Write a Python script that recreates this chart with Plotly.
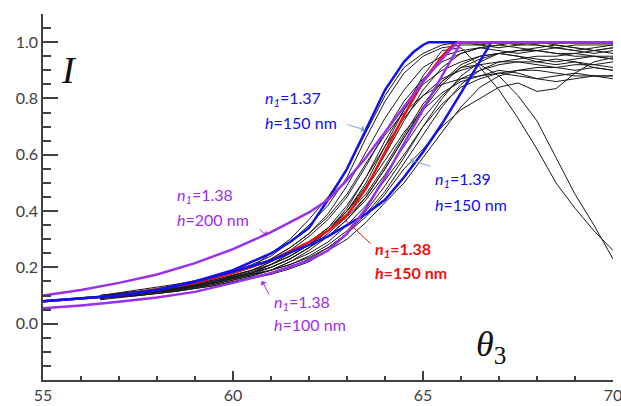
import plotly.graph_objects as go

# ---------------- data ----------------
# experimental curves (black), sampled on a common angle grid
exp_x = [56.5, 57.5, 58.5, 59.5, 60.5, 61.0, 61.5, 62.0, 62.5, 63.0, 63.5, 64.0,
         64.5, 65.0, 65.5, 66.0, 66.5, 67.0, 67.5, 68.0, 68.5, 69.0, 69.5, 70.0]
exp_c01 = [0.095,0.11,0.13,0.16,0.21,0.24,0.29,0.35,0.42,0.52,0.66,0.79,0.89,0.95,0.98,0.99,0.99,1.0,0.99,0.99,0.98,0.99,0.99,0.99]
exp_c02 = [0.10,0.115,0.135,0.16,0.20,0.23,0.27,0.32,0.39,0.49,0.61,0.73,0.83,0.91,0.95,0.97,0.98,0.97,0.96,0.97,0.98,0.97,0.96,0.97]
exp_c03 = [0.09,0.105,0.125,0.15,0.19,0.21,0.24,0.28,0.33,0.40,0.50,0.63,0.76,0.88,0.97,0.98,0.91,0.83,0.73,0.62,0.50,0.41,0.33,0.26]
exp_c04 = [0.095,0.11,0.13,0.155,0.19,0.22,0.26,0.31,0.37,0.45,0.56,0.68,0.79,0.87,0.93,0.96,0.98,0.99,0.98,0.97,0.96,0.95,0.95,0.94]
exp_c05 = [0.10,0.11,0.125,0.15,0.18,0.21,0.25,0.29,0.34,0.42,0.52,0.65,0.76,0.85,0.90,0.93,0.95,0.96,0.95,0.94,0.93,0.94,0.95,0.94]
exp_c06 = [0.09,0.105,0.12,0.145,0.18,0.20,0.23,0.27,0.33,0.41,0.52,0.63,0.73,0.81,0.87,0.90,0.92,0.93,0.93,0.92,0.91,0.92,0.92,0.91]
exp_c07 = [0.095,0.11,0.125,0.15,0.185,0.21,0.24,0.28,0.33,0.40,0.49,0.60,0.72,0.83,0.91,0.96,0.98,0.99,1.0,0.99,0.98,0.97,0.98,0.99]
exp_c08 = [0.10,0.115,0.13,0.155,0.19,0.22,0.25,0.29,0.34,0.40,0.48,0.58,0.68,0.76,0.82,0.86,0.88,0.89,0.88,0.87,0.88,0.89,0.88,0.88]
exp_c09 = [0.095,0.11,0.125,0.15,0.18,0.20,0.23,0.27,0.32,0.38,0.45,0.55,0.66,0.76,0.85,0.91,0.92,0.88,0.81,0.72,0.59,0.46,0.35,0.23]
exp_c10 = [0.09,0.105,0.12,0.145,0.175,0.20,0.23,0.27,0.31,0.37,0.45,0.55,0.66,0.77,0.86,0.92,0.95,0.96,0.97,0.97,0.96,0.96,0.97,0.96]
exp_c11 = [0.095,0.105,0.12,0.14,0.17,0.19,0.22,0.26,0.31,0.37,0.44,0.53,0.63,0.73,0.81,0.87,0.90,0.92,0.93,0.93,0.94,0.93,0.92,0.93]
exp_c12 = [0.09,0.10,0.115,0.14,0.17,0.19,0.22,0.25,0.29,0.35,0.42,0.51,0.60,0.70,0.78,0.84,0.87,0.89,0.90,0.90,0.89,0.88,0.88,0.87]
exp_c13 = [0.095,0.11,0.12,0.145,0.175,0.19,0.21,0.24,0.28,0.33,0.40,0.49,0.59,0.70,0.80,0.88,0.93,0.96,0.97,0.98,0.99,0.98,0.97,0.98]
exp_c14 = [0.09,0.10,0.115,0.135,0.165,0.18,0.20,0.23,0.27,0.32,0.39,0.47,0.57,0.67,0.77,0.85,0.90,0.93,0.94,0.95,0.95,0.96,0.95,0.95]
exp_c15 = [0.085,0.10,0.115,0.135,0.16,0.175,0.195,0.22,0.26,0.30,0.36,0.43,0.50,0.59,0.68,0.77,0.84,0.88,0.90,0.91,0.91,0.90,0.91,0.90]
exp_c16 = [0.095,0.105,0.12,0.145,0.175,0.19,0.21,0.235,0.27,0.32,0.38,0.46,0.55,0.62,0.70,0.76,0.80,0.84,0.855,0.825,0.835,0.89,0.93,0.945]
exp_c17 = [0.10,0.12,0.14,0.165,0.20,0.23,0.27,0.32,0.38,0.46,0.57,0.67,0.75,0.81,0.85,0.87,0.88,0.90,0.89,0.87,0.86,0.87,0.88,0.88]
exp_c18 = [0.095,0.11,0.13,0.16,0.20,0.25,0.30,0.37,0.45,0.55,0.68,0.81,0.91,0.96,0.99,1.0,0.99,0.98,0.99,1.0,0.99,0.98,0.97,0.98]
exp_c19 = [0.09,0.105,0.12,0.145,0.18,0.21,0.24,0.28,0.33,0.39,0.46,0.56,0.67,0.78,0.86,0.91,0.94,0.96,0.95,0.93,0.92,0.93,0.91,0.90]
exp_curves = [exp_c01, exp_c02, exp_c03, exp_c04, exp_c05, exp_c06, exp_c07, exp_c08, exp_c09, exp_c10,
              exp_c11, exp_c12, exp_c13, exp_c14, exp_c15, exp_c16, exp_c17, exp_c18, exp_c19]

# theory curves
b37_x = [55, 56, 57, 58, 59, 60, 60.5, 61, 61.5, 62, 62.5, 63, 63.5, 64, 64.5, 64.75, 65, 65.15, 70]
b37_y = [0.08, 0.09, 0.10, 0.12, 0.15, 0.19, 0.22, 0.25, 0.29, 0.34, 0.44, 0.55, 0.69, 0.83, 0.93, 0.965, 0.99, 1.0, 1.0]
b39_x = [55, 56, 57, 58, 59, 60, 61, 62, 62.5, 63, 63.5, 64, 64.5, 65, 65.5, 66, 66.5, 66.8, 70]
b39_y = [0.08, 0.09, 0.10, 0.12, 0.15, 0.185, 0.225, 0.28, 0.31, 0.35, 0.39, 0.44, 0.52, 0.61, 0.71, 0.82, 0.93, 1.0, 1.0]
red_x = [55, 57, 59, 60, 61, 62, 62.5, 63, 63.5, 64, 64.5, 65, 65.5, 65.85, 70]
red_y = [0.08, 0.10, 0.145, 0.18, 0.225, 0.29, 0.33, 0.385, 0.48, 0.61, 0.74, 0.86, 0.95, 1.0, 1.0]
p200_x = [55, 56, 57, 58, 59, 60, 61, 62, 62.5, 63, 63.5, 64, 64.5, 65, 65.5, 65.9, 70]
p200_y = [0.10, 0.12, 0.145, 0.175, 0.215, 0.265, 0.325, 0.395, 0.44, 0.51, 0.59, 0.68, 0.77, 0.86, 0.94, 1.0, 1.0]
p100_x = [55, 56, 57, 58, 59, 60, 61, 62, 62.5, 63, 63.5, 64, 64.5, 65, 65.5, 66, 70]
p100_y = [0.055, 0.065, 0.078, 0.093, 0.113, 0.145, 0.18, 0.225, 0.26, 0.32, 0.41, 0.52, 0.64, 0.76, 0.88, 1.0, 1.0]

y_tickvals = [0.0, 0.2, 0.4, 0.6, 0.8, 1.0]
y_ticktext = ["0.0", "0.2", "0.4", "0.6", "0.8", "1.0"]
x_tickvals = [55, 60, 65, 70]
x_ticktext = ["55", "60", "65", "70"]

BLUE = "#1010f0"
PURPLE = "#9b2ff0"
RED = "#f01010"
AXC = "#404040"
FONT = "Lato"

fig = go.Figure()
for cy in exp_curves:
    fig.add_trace(go.Scatter(x=exp_x, y=cy, mode="lines",
                             line=dict(color="#1a1a1a", width=1), hoverinfo="skip"))
fig.add_trace(go.Scatter(x=red_x, y=red_y, mode="lines", line=dict(color=RED, width=2.5)))
fig.add_trace(go.Scatter(x=b39_x, y=b39_y, mode="lines", line=dict(color=BLUE, width=2.5)))
fig.add_trace(go.Scatter(x=b37_x, y=b37_y, mode="lines", line=dict(color=BLUE, width=2.5)))
fig.add_trace(go.Scatter(x=p100_x, y=p100_y, mode="lines", line=dict(color=PURPLE, width=2.5)))
fig.add_trace(go.Scatter(x=p200_x, y=p200_y, mode="lines", line=dict(color=PURPLE, width=2.5)))

ann = []
def label(x, y, text, color, bold=False, size=16):
    t = f"<b>{text}</b>" if bold else text
    ann.append(dict(x=x, y=y, xref="x", yref="y", text=t, showarrow=False,
                    xanchor="left", yanchor="middle",
                    font=dict(family=FONT, size=size, color=color)))

def arrow(tx, ty, hx, hy, color, head=1):
    ann.append(dict(x=hx, y=hy, ax=tx, ay=ty, xref="x", yref="y", axref="x", ayref="y",
                    text="", showarrow=True, arrowhead=head, arrowsize=1.2,
                    arrowwidth=1, arrowcolor=color))

N1 = "<i>n</i><sub><i>1</i></sub>"
label(60.79, 0.801, N1 + "=1.37", BLUE)
label(60.79, 0.713, "<i>h</i>=150 nm", BLUE)
label(65.26, 0.511, N1 + "=1.39", BLUE)
label(65.26, 0.422, "<i>h</i>=150 nm", BLUE)
label(58.47, 0.454, N1 + "=1.38", PURPLE)
label(58.47, 0.369, "<i>h</i>=200 nm", PURPLE)
label(61.03, 0.0745, N1 + "=1.38", PURPLE)
label(61.03, -0.004, "<i>h</i>=100 nm", PURPLE)
label(63.68, 0.262, N1 + "=1.38", RED, bold=True)
label(63.68, 0.181, "<i>h</i>=150 nm", RED, bold=True)

arrow(62.97, 0.709, 63.47, 0.688, "#7ea6cf")
arrow(65.24, 0.557, 64.66, 0.582, "#7ea6cf")
arrow(60.66, 0.340, 60.89, 0.312, PURPLE)
arrow(60.97, 0.099, 60.76, 0.152, PURPLE)
arrow(63.66, 0.280, 62.89, 0.376, RED, head=0)

ann.append(dict(x=55.68, y=0.90, xref="x", yref="y", text="<i>I</i>", showarrow=False,
                xanchor="center", yanchor="middle",
                font=dict(family="Liberation Serif", size=38, color="#111")))
ann.append(dict(x=66.34, y=-0.08, xref="x", yref="y", text="<i>θ</i><sub>3</sub>", showarrow=False,
                xanchor="left", yanchor="middle",
                font=dict(family="Liberation Serif", size=36, color="#111")))

fig.update_layout(
    width=621, height=406,
    margin=dict(l=43, r=8, t=14, b=26, autoexpand=False),
    paper_bgcolor="white", plot_bgcolor="white",
    showlegend=False,
    annotations=ann,
    xaxis=dict(range=[55, 70], tickmode="array", tickvals=x_tickvals, ticktext=x_ticktext,
               ticks="inside", ticklen=9, tickwidth=1.5, tickcolor=AXC,
               showline=True, linecolor=AXC, linewidth=1.5, showgrid=False, zeroline=False,
               ticklabeloverflow="allow", automargin=False,
               tickfont=dict(family=FONT, size=16, color=AXC),
               minor=dict(tickmode="linear", tick0=55, dtick=1, ticks="inside", ticklen=4,
                          tickwidth=1.5, tickcolor=AXC, showgrid=False)),
    yaxis=dict(range=[-0.2, 1.1], tickmode="array", tickvals=y_tickvals, ticktext=y_ticktext,
               ticks="inside", ticklen=15, tickwidth=1.5, tickcolor=AXC,
               showline=True, linecolor=AXC, linewidth=1.5, showgrid=False, zeroline=False,
               ticklabeloverflow="allow", automargin=False,
               tickfont=dict(family=FONT, size=16, color=AXC),
               minor=dict(tickmode="linear", tick0=0, dtick=0.05, ticks="inside", ticklen=8,
                          tickwidth=1.5, tickcolor=AXC, showgrid=False)),
)

fig.write_html("out.html", config={"displayModeBar": False},
               post_script="document.body.style.margin='0';document.body.style.overflow='hidden';")
